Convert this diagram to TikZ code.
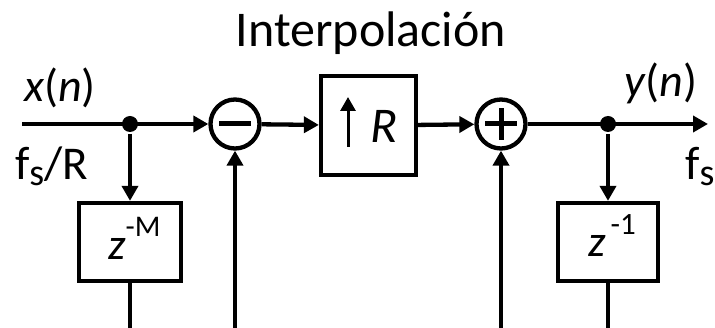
\documentclass[tikz,border=0pt]{standalone}
\usepackage{fontspec}
\setmainfont{Carlito}
\usetikzlibrary{arrows.meta}
\begin{document}
\begin{tikzpicture}[x=1pt,y=-1pt, line width=4.3pt,
  sig/.style={-{Triangle[length=15pt,width=16pt]}},
  blk/.style={draw, inner sep=0, line width=4.3pt},
  sumnode/.style={draw, circle, minimum size=49pt, inner sep=0},
  junc/.style={fill, circle, minimum size=16pt, inner sep=0},
  lbl/.style={inner sep=0, anchor=base west}]
\useasboundingbox (0,0) rectangle (715,328);
% title
\node[inner sep=0, anchor=base, font=\fontsize{50}{60}\selectfont] (title) at (371,47) {Interpolación};
% coordinates
\coordinate (in) at (22,124);
\coordinate (out) at (708,124);
\coordinate (bM) at (130,332);
\coordinate (bm) at (235,332);
\coordinate (bp) at (501,332);
\coordinate (b1) at (608,332);
% nodes
\node[junc] (d1) at (130,124) {};
\node[sumnode] (m) at (235,124) {};
\node[blk, minimum width=95pt, minimum height=99pt] (R) at (368.5,125.5) {};
\node[sumnode] (p) at (501,124) {};
\node[junc] (d2) at (608,124) {};
\node[blk, minimum width=102pt, minimum height=78pt] (zM) at (130,242) {};
\node[blk, minimum width=100pt, minimum height=78pt] (z1) at (608,242) {};
% signs
\draw[line width=5pt] ([xshift=-16pt]m.center) -- ([xshift=16pt]m.center);
\draw[line width=5pt] ([xshift=-16pt]p.center) -- ([xshift=16pt]p.center);
\draw[line width=5pt] ([yshift=-16pt]p.center) -- ([yshift=16pt]p.center);
% box contents
\coordinate (ua) at (348,147);
\coordinate (ub) at (348,97);
\draw[line width=3pt, -{Triangle[length=14pt,width=15pt]}] (ua) -- (ub);
\node[lbl, font=\fontsize{50}{60}\selectfont\itshape] (Rt) at (368,143) {R};
\node[lbl, font=\fontsize{44}{50}\selectfont] (zMt) at (106,260) {\textit{z}\raisebox{23pt}{\fontsize{30}{36}\selectfont -M}};
\node[lbl, font=\fontsize{44}{50}\selectfont] (z1t) at (586,257) {\textit{z}\hspace{5pt}\raisebox{22pt}{\fontsize{31}{37}\selectfont -1}};
% labels
\node[lbl, font=\fontsize{46}{54}\selectfont] (xn) at (22,102) {\textit{x}(\textit{n})};
\node[lbl, font=\fontsize{47}{54}\selectfont] (fsR) at (13,180) {f\raisebox{-6pt}{\fontsize{38}{44}\selectfont s}/R};
\node[lbl, font=\fontsize{46}{54}\selectfont] (yn) at (622,97) {\textit{y}(\textit{n})};
\node[lbl, font=\fontsize{47}{54}\selectfont] (fs) at (683,180) {f\raisebox{-6pt}{\fontsize{38}{44}\selectfont s}};
% connectors
\draw[sig] (in) -- (m);
\draw[sig] (d1) -- (zM.north);
\draw[sig] (m) -- (R);
\draw[sig] (R) -- (p);
\draw[sig] (p) -- (out);
\draw[sig] (d2) -- (z1.north);
\draw (zM.south) -- (bM);
\draw (z1.south) -- (b1);
\draw[sig] (bm) -- (m.south);
\draw[sig] (bp) -- (p.south);
\end{tikzpicture}
\end{document}
